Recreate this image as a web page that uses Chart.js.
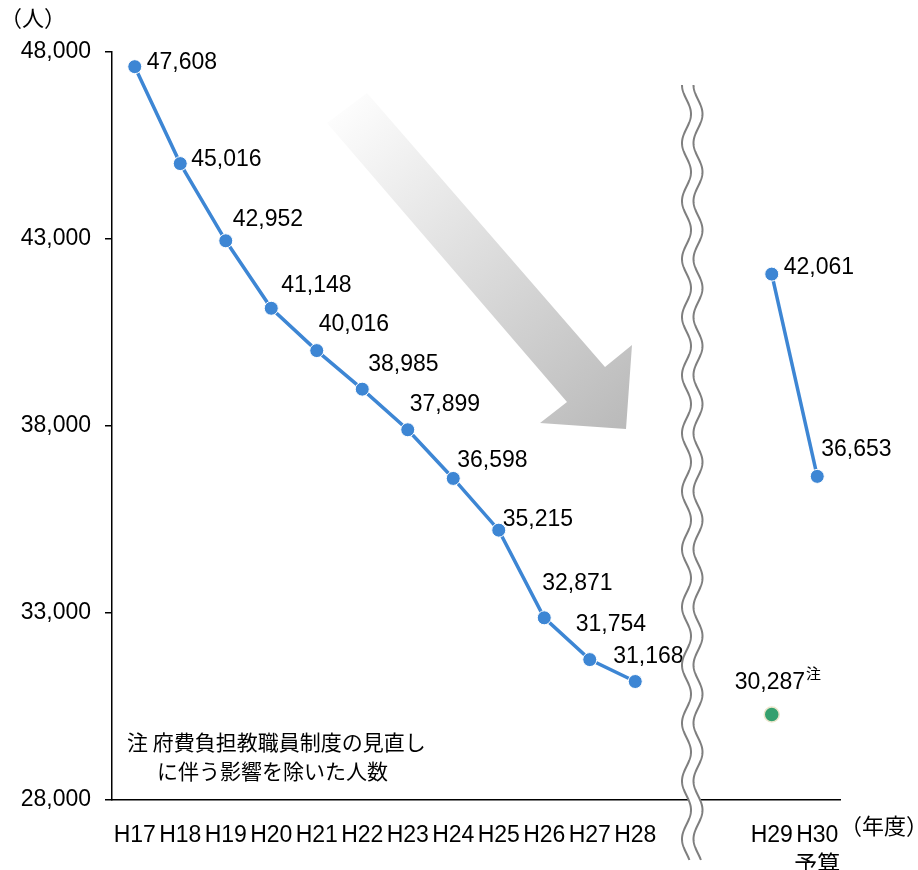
<!DOCTYPE html>
<html>
<head>
<meta charset="utf-8">
<script src="https://cdn.jsdelivr.net/npm/chart.js@4/dist/chart.umd.min.js"></script>
<style>
  html, body { margin: 0; padding: 0; background: #fff; }
  #wrap { width: 918px; height: 870px; }
</style>
</head>
<body>
<div id="wrap"><canvas id="myChart" width="918" height="870"></canvas></div>
<script>
// data
const categories = ['H17', 'H18', 'H19', 'H20', 'H21', 'H22', 'H23', 'H24', 'H25', 'H26', 'H27', 'H28', '', '', 'H29', ['H30', '予算']];
const pastValues = [47608, 45016, 42952, 41148, 40016, 38985, 37899, 36598, 35215, 32871, 31754, 31168, null, null, null, null];
const budgetValues = [null, null, null, null, null, null, null, null, null, null, null, null, null, null, 42061, 36653];
const adjustedValues = [null, null, null, null, null, null, null, null, null, null, null, null, null, null, 30287, null];
const yTicks = [28000, 33000, 38000, 43000, 48000];

// label placement relative to each point (text left, text middle)
const pastOffsets = [[12, -4], [11, -4], [7, -21], [10, -23], [2, -26], [6, -25], [2, -25], [4, -18], [4, -11], [-2, -34], [-14, -35], [-22, -25]];
const budgetOffsets = { 14: [12, -6], 15: [4, -27] };
const adjustedOffsets = { 14: [-37, -32] };

const FONT = "Arial, 'Liberation Sans', 'Noto Sans CJK JP', sans-serif";
const JP_FONT = "'Noto Sans CJK JP', 'Liberation Sans', sans-serif";
const BLUE = '#3d86d4';

const ctx = document.getElementById('myChart').getContext('2d');

const fmt = v => v.toLocaleString('en-US');

const decorPlugin = {
    id: 'decor',
    beforeDatasetsDraw(chart) {
        // big gray arrow
        const c = chart.ctx;
        c.save();
        const g = c.createLinearGradient(330, 100, 630, 430);
        g.addColorStop(0, 'rgba(255,255,255,1)');
        g.addColorStop(1, 'rgb(185,185,185)');
        c.fillStyle = g;
        c.beginPath();
        c.moveTo(367, 93);
        c.lineTo(605, 367);
        c.lineTo(632, 345);
        c.lineTo(626, 429);
        c.lineTo(540, 423);
        c.lineTo(567, 402);
        c.lineTo(327, 123);
        c.closePath();
        c.fill();
        c.restore();
    },
    afterDatasetsDraw(chart) {
        const c = chart.ctx;
        c.save();
        c.font = '23px ' + FONT;
        c.fillStyle = '#000';
        c.textBaseline = 'middle';
        c.textAlign = 'left';
        const draw = (dsIndex, values, offsets) => {
            const meta = chart.getDatasetMeta(dsIndex);
            values.forEach((v, i) => {
                if (v === null) return;
                const off = offsets[i];
                const pt = meta.data[i];
                c.fillText(fmt(v), pt.x + off[0], pt.y + off[1]);
                if (dsIndex === 2) {
                    const w = c.measureText(fmt(v)).width;
                    c.font = '15px ' + JP_FONT;
                    c.fillText('注', pt.x + off[0] + w + 1, pt.y + off[1] - 9);
                    c.font = '23px ' + FONT;
                }
            });
        };
        draw(0, pastValues, pastOffsets);
        draw(1, budgetValues, budgetOffsets);
        draw(2, adjustedValues, adjustedOffsets);
        c.restore();
    },
    afterDraw(chart) {
        const c = chart.ctx;
        c.save();
        // wavy break lines
        const top = 85, bottom = 860, period = 58, amp = 4.5;
        const wave = (base, y) => base + amp * Math.sin(2 * Math.PI * (y - top) / period - Math.PI / 2);
        c.beginPath();
        for (let y = top; y <= bottom; y++) {
            const x = wave(686.5, y);
            if (y === top) c.moveTo(x, y); else c.lineTo(x, y);
        }
        for (let y = bottom; y >= top; y--) c.lineTo(wave(698, y), y);
        c.closePath();
        c.fillStyle = '#fff';
        c.fill();
        c.strokeStyle = '#7f7f7f';
        c.lineWidth = 2;
        [686.5, 698].forEach(base => {
            c.beginPath();
            for (let y = top; y <= bottom; y++) {
                const x = wave(base, y);
                if (y === top) c.moveTo(x, y); else c.lineTo(x, y);
            }
            c.stroke();
        });

        // texts
        c.fillStyle = '#000';
        c.textBaseline = 'middle';
        c.textAlign = 'left';
        c.font = '22px ' + JP_FONT;
        c.fillText('（人）', 0, 18);
        c.fillText('（年度）', 840, 826);
        c.font = '21px ' + JP_FONT;
        c.fillText('注 府費負担教職員制度の見直し', 127, 742);
        c.fillText('に伴う影響を除いた人数', 157, 771);
        c.restore();
    }
};

new Chart(ctx, {
    type: 'line',
    data: {
        labels: categories,
        datasets: [{
            data: pastValues,
            borderColor: BLUE,
            backgroundColor: BLUE,
            borderWidth: 3.5,
            pointRadius: 7,
            pointBorderColor: '#fff',
            pointBorderWidth: 1,
            pointBackgroundColor: BLUE,
            spanGaps: false
        }, {
            data: budgetValues,
            borderColor: BLUE,
            backgroundColor: BLUE,
            borderWidth: 3.5,
            pointRadius: 7,
            pointBorderColor: '#fff',
            pointBorderWidth: 1,
            pointBackgroundColor: BLUE,
            spanGaps: false
        }, {
            data: adjustedValues,
            showLine: false,
            pointRadius: 7.5,
            pointBackgroundColor: '#35a06e',
            pointBorderColor: '#ece6cc',
            pointBorderWidth: 1.5
        }]
    },
    options: {
        responsive: false,
        animation: false,
        layout: { padding: { top: 52, right: 78, left: 0, bottom: 0 } },
        plugins: {
            legend: { display: false },
            tooltip: { enabled: false }
        },
        scales: {
            x: {
                offset: true,
                afterFit: scale => { scale.height = 70; },
                grid: { display: false, offset: true },
                border: { display: true, color: '#000', width: 1.5 },
                ticks: {
                    autoSkip: false,
                    maxRotation: 0,
                    padding: 13,
                    color: '#000',
                    font: { family: FONT, size: 23, lineHeight: 1.3 }
                }
            },
            y: {
                min: 28000,
                max: 48000,
                afterFit: scale => { scale.width = 112; },
                afterBuildTicks: scale => { scale.ticks = yTicks.map(v => ({ value: v })); },
                grid: { drawOnChartArea: false, drawTicks: true, tickLength: 7, color: '#000', lineWidth: 1.5 },
                border: { display: true, color: '#000', width: 1.5 },
                ticks: {
                    padding: 14,
                    color: '#000',
                    font: { family: FONT, size: 23 },
                    callback: v => fmt(v)
                }
            }
        }
    },
    plugins: [decorPlugin]
});
</script>
</body>
</html>
